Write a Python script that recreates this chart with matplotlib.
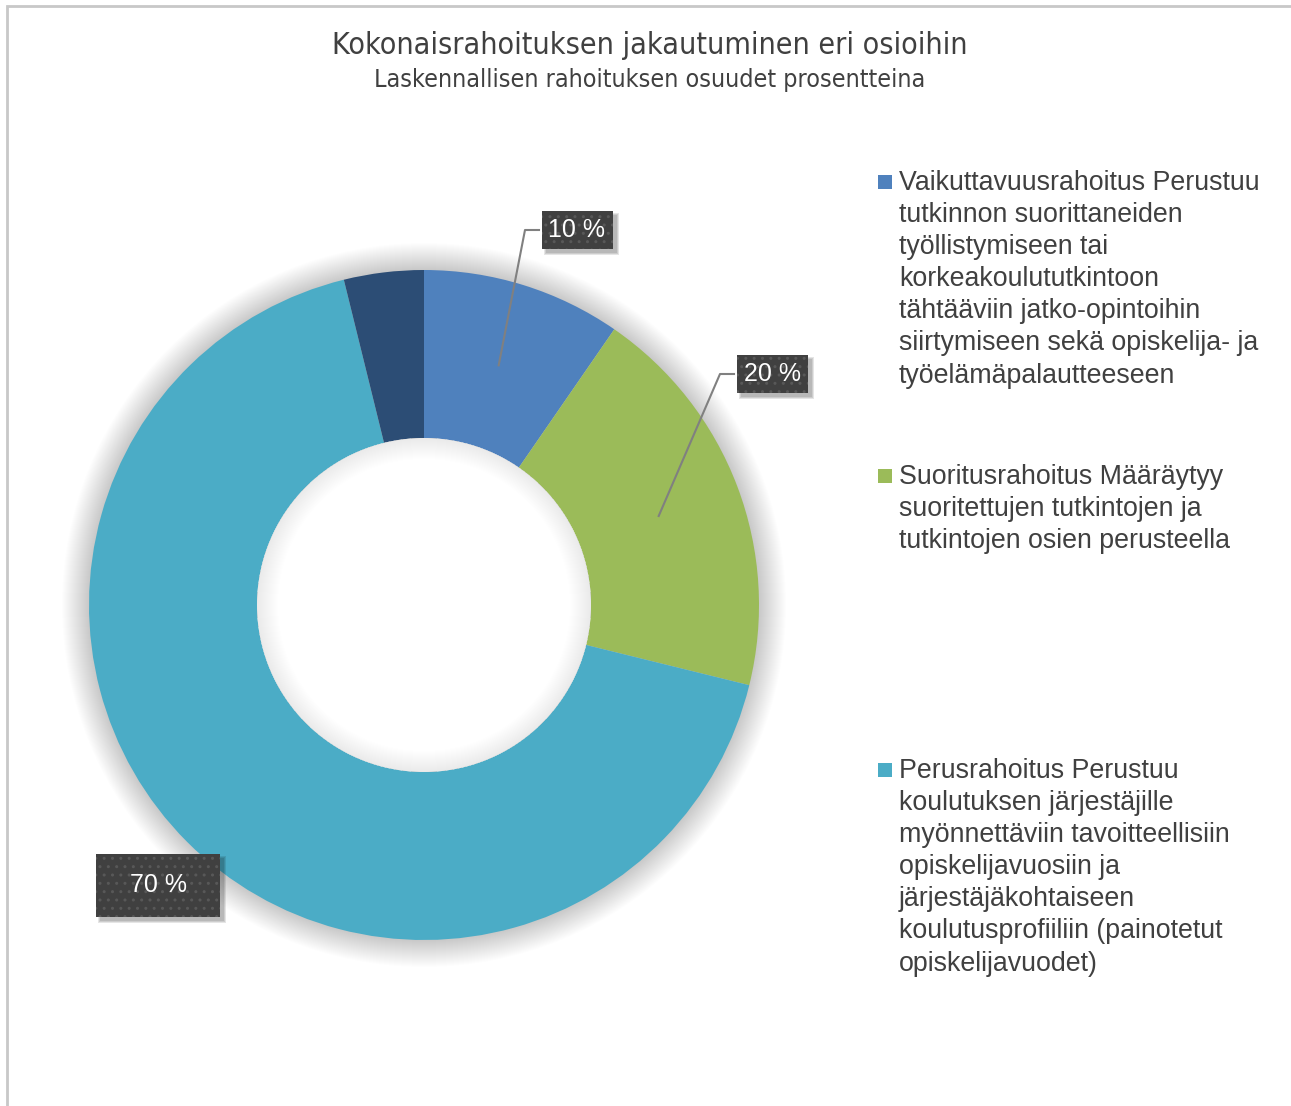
import matplotlib
matplotlib.use("Agg")
import matplotlib.pyplot as plt
import numpy as np
from matplotlib.patches import Circle, Wedge, Rectangle

title = "Kokonaisrahoituksen jakautuminen eri osioihin"
subtitle = "Laskennallisen rahoituksen osuudet prosentteina"

values = [10, 20, 70, 4]
colors = ["#4F81BD", "#9BBB59", "#4BACC6", "#2C4D75"]
legend_texts = [
    "Vaikuttavuusrahoitus Perustuu\ntutkinnon suorittaneiden\ntyöllistymiseen tai\nkorkeakoulututkintoon\n"
    "tähtääviin jatko-opintoihin\nsiirtymiseen sekä opiskelija- ja\ntyöelämäpalautteeseen",
    "Suoritusrahoitus Määräytyy\nsuoritettujen tutkintojen ja\ntutkintojen osien perusteella",
    "Perusrahoitus Perustuu\nkoulutuksen järjestäjille\nmyönnettäviin tavoitteellisiin\nopiskelijavuosiin ja\n"
    "järjestäjäkohtaiseen\nkoulutusprofiiliin (painotetut\nopiskelijavuodet)",
]
labelled = [0, 1, 2]

W, H = 1291, 1106
fig = plt.figure(figsize=(W / 100, H / 100), dpi=100)
ax = fig.add_axes([0, 0, 1, 1])

text_col = "#404040"
font = ["Liberation Sans", "DejaVu Sans"]

# frame
ax.plot([7, 7, W], [0, H - 6, H - 6], color="#C8C8C8", lw=2, solid_joinstyle="miter")

cx, cy = 424, 501
R, r_in = 335, 167

# outer glow
for k in range(1, 28):
    ax.add_patch(Circle((cx, cy), R + k, fc="black", alpha=0.006, lw=0, zorder=1))

wedges, _ = ax.pie(values, colors=colors, startangle=90, counterclock=False,
                   center=(cx, cy), radius=R, frame=True,
                   wedgeprops=dict(width=R - r_in, linewidth=0))
for w in wedges:
    w.set_zorder(2)
ax.add_patch(Circle((cx, cy), r_in, fc="white", lw=0, zorder=3))
# inner shadow
for k in range(1, 22):
    ax.add_patch(Wedge((cx, cy), r_in, 0, 360, width=k, fc="black", alpha=0.005, lw=0, zorder=3))
ax.set_xlim(0, W)
ax.set_ylim(0, H)
ax.set_aspect("equal")
ax.axis("off")

# data labels
label_offsets = [(153, 375), (348, 231), (-266, -280)]
leader = [True, True, False]
total = sum(values)
cum = np.cumsum([0] + values)
mid_r = (R + r_in) / 2
label_texts = []
for i, off in zip(labelled, label_offsets):
    theta = np.deg2rad((cum[i] + values[i] / 2) / total * 360)
    ax_x, ax_y = cx + mid_r * np.sin(theta), cy + mid_r * np.cos(theta)
    tx, ty = cx + off[0], cy + off[1]
    if leader[i]:
        ax.plot([ax_x, tx - 52, tx - 38], [ax_y, ty, ty], color="#808080", lw=1.5, zorder=4)
    big = i == 2
    s = f"  {values[i]} %  " if big else f"{values[i]} %"
    pad = 0.78 if big else 0.28
    t = ax.text(tx, ty, s, ha="center", va="center", fontsize=18, color="white",
                family=font, zorder=6,
                bbox=dict(boxstyle="square,pad=%s" % pad,
                          fc="#404040", ec="#585858", lw=0, hatch=".."))
    label_texts.append(t)

# box shadows, from the drawn label boxes
fig.canvas.draw()
inv = ax.transData.inverted()
for t in label_texts:
    bb = t.get_bbox_patch().get_window_extent()
    (x0, y0), (x1, y1) = inv.transform([(bb.x0 + 4, bb.y0 - 4), (bb.x1 + 4, bb.y1 - 4)])
    for k in range(3):
        ax.add_patch(Rectangle((x0 - k, y0 - k), x1 - x0 + 2 * k, y1 - y0 + 2 * k,
                               fc="black", alpha=0.1, lw=0, zorder=5))

# title
fig.text(650 / W, 1 - 46 / H, title, ha="center", va="center", fontsize=21.8,
         color=text_col, family="DejaVu Sans", fontstretch="condensed")
fig.text(650 / W, 1 - 80 / H, subtitle, ha="center", va="center", fontsize=18,
         color=text_col, family="DejaVu Sans", fontstretch="condensed")

# legend
legend_lines = [182, 476, 770]
for txt, col, yl in zip(legend_texts, colors, legend_lines):
    ax.add_patch(Rectangle((878, H - yl - 7), 14, 14, fc=col, lw=0))
    ax.text(899, H - yl + 12, txt, ha="left", va="top", fontsize=19.3,
            color=text_col, family=font, linespacing=1.305)

fig.savefig("out.png", dpi=100, facecolor="white")
